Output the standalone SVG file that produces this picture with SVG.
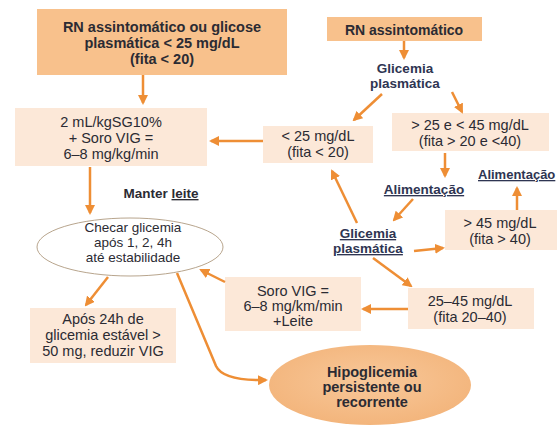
<svg xmlns="http://www.w3.org/2000/svg" width="557" height="425" viewBox="0 0 557 425">
<style>
.dk{fill:#f8c18c}
.lt{fill:#fce8d8}
.t{font-family:"Liberation Sans",Arial,sans-serif;font-size:14.5px;fill:#2b2b33;text-anchor:middle}
.b{font-weight:bold}
.nv{fill:#2e3552;font-weight:bold;font-size:13.5px}
.u{text-decoration:underline}
.c line,.c path{stroke:#ee8e35;stroke-width:2.5;fill:none;marker-end:url(#ah)}
</style>
<defs>
<marker id="ah" viewBox="0 0 10 10" refX="8" refY="5" markerWidth="4" markerHeight="4" orient="auto" markerUnits="strokeWidth">
<path d="M0,0 L10,5 L0,10 Z" fill="#ee8e35"/>
</marker>
<radialGradient id="eg" cx="50%" cy="45%" r="55%">
<stop offset="0" stop-color="#f8c89a"/>
<stop offset="1" stop-color="#f3b57c"/>
</radialGradient>
</defs>
<rect width="557" height="425" fill="#ffffff"/>

<g id="n1"><rect x="37" y="9" width="250" height="66" class="dk"/>
<text class="t b" x="162" y="32">RN assintomático ou glicose</text>
<text class="t b" x="162" y="48">plasmática &lt; 25 mg/dL</text>
<text class="t b" x="162" y="64">(fita &lt; 20)</text></g>

<g id="n2"><rect x="327" y="17" width="155" height="24" class="dk"/>
<text class="t b" x="404" y="35" style="font-size:14px">RN assintomático</text></g>

<g id="n3"><text class="t nv" x="405" y="73">Glicemia</text>
<text class="t nv" x="405" y="88">plasmática</text></g>

<g id="n4"><rect x="15" y="108" width="192" height="58" class="lt"/>
<text class="t" x="111" y="127">2 mL/kgSG10%</text>
<text class="t" x="111" y="143">+ Soro VIG =</text>
<text class="t" x="111" y="159">6–8 mg/kg/min</text></g>

<g id="n5"><rect x="263" y="126" width="110" height="37" class="lt"/>
<text class="t" x="318" y="141">&lt; 25 mg/dL</text>
<text class="t" x="318" y="157">(fita &lt; 20)</text></g>

<g id="n6"><rect x="392" y="113" width="157" height="38" class="lt"/>
<text class="t" x="470" y="130">&gt; 25 e &lt; 45 mg/dL</text>
<text class="t" x="470" y="146">(fita &gt; 20 e &lt;40)</text></g>

<g id="n7"><text class="t nv u" x="424" y="194">Alimentação</text></g>
<g id="n8"><text class="t nv u" x="478" y="179" style="text-anchor:start;font-size:13px">Alimentação</text></g>

<g id="n9"><rect x="445" y="210" width="112" height="40" class="lt"/>
<text class="t" x="500" y="228">&gt; 45 mg/dL</text>
<text class="t" x="500" y="244">(fita &gt; 40)</text></g>

<g id="n10"><text class="t nv u" x="368" y="238">Glicemia</text>
<text class="t nv u" x="368" y="253">plasmática</text></g>

<g id="n11"><text class="t b" x="161" y="198" style="font-size:13.5px">Manter <tspan class="u">leite</tspan></text></g>

<g id="n12"><ellipse cx="130" cy="247" rx="93" ry="29" fill="#ffffff" stroke="#b8a58d" stroke-width="1"/>
<text class="t" x="133" y="232" style="font-size:13.5px">Checar glicemia</text>
<text class="t" x="133" y="247" style="font-size:13.5px">após 1, 2, 4h</text>
<text class="t" x="133" y="262" style="font-size:13.5px">até estabilidade</text></g>

<g id="n13"><rect x="225" y="277" width="136" height="54" class="lt"/>
<text class="t" x="293" y="296">Soro VIG =</text>
<text class="t" x="293" y="311">6–8 mg/km/min</text>
<text class="t" x="293" y="326">+Leite</text></g>

<g id="n14"><rect x="408" y="288" width="126" height="41" class="lt"/>
<text class="t" x="470" y="306">25–45 mg/dL</text>
<text class="t" x="470" y="322">(fita 20–40)</text></g>

<g id="n15"><rect x="30" y="308" width="146" height="55" class="lt"/>
<text class="t" x="103" y="324">Após 24h de</text>
<text class="t" x="103" y="340">glicemia estável &gt;</text>
<text class="t" x="103" y="356">50 mg, reduzir VIG</text></g>

<g id="n16"><ellipse cx="370" cy="385" rx="101" ry="40" fill="url(#eg)"/>
<text class="t b" x="372" y="377">Hipoglicemia</text>
<text class="t b" x="372" y="392">persistente ou</text>
<text class="t b" x="372" y="407">recorrente</text></g>

<g id="connectors" class="c">
<line x1="143" y1="75" x2="143" y2="103"/>
<line x1="404" y1="41" x2="404" y2="58"/>
<line x1="382" y1="94" x2="354" y2="120"/>
<line x1="452" y1="92" x2="462" y2="112"/>
<line x1="263" y1="141" x2="211" y2="141"/>
<line x1="445" y1="153" x2="445" y2="176"/>
<line x1="413" y1="199" x2="394" y2="220"/>
<line x1="357" y1="223" x2="332" y2="171"/>
<line x1="414" y1="251" x2="443" y2="248"/>
<line x1="373" y1="258" x2="411" y2="286"/>
<line x1="408" y1="309" x2="363" y2="309"/>
<line x1="225" y1="282" x2="201" y2="270"/>
<line x1="90" y1="167" x2="90" y2="213"/>
<line x1="108" y1="277" x2="86" y2="305"/>
<line x1="517" y1="210" x2="517" y2="188"/>
<path d="M177,273 L216,366 Q223,381 266,380"/>
</g>
</svg>
